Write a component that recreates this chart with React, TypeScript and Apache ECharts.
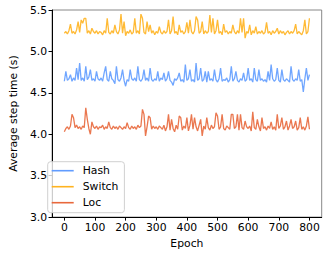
import React, { useEffect, useRef } from "react";
import * as echarts from "echarts";

const STEP = 5;
const seriesNames = ["Hash", "Switch", "Loc"];
const colors = ["#619CFF", "#FFB31F", "#E8683C"];
const xTicks = [0, 100, 200, 300, 400, 500, 600, 700, 800];

const switchValues = [
  5.22, 5.24, 5.21, 5.25, 5.33, 5.22, 5.24, 5.21, 5.26, 5.36,
  5.23, 5.38, 5.34, 5.40, 5.40, 5.22, 5.25, 5.21, 5.28, 5.24,
  5.22, 5.25, 5.21, 5.24, 5.23, 5.20, 5.25, 5.22, 5.40, 5.23,
  5.21, 5.25, 5.22, 5.32, 5.24, 5.21, 5.26, 5.45, 5.22, 5.36,
  5.19, 5.24, 5.22, 5.26, 5.21, 5.23, 5.40, 5.22, 5.25, 5.21,
  5.45, 5.40, 5.23, 5.21, 5.36, 5.24, 5.32, 5.22, 5.25, 5.20,
  5.24, 5.22, 5.30, 5.23, 5.21, 5.25, 5.22, 5.24, 5.38, 5.21,
  5.25, 5.42, 5.22, 5.24, 5.20, 5.32, 5.23, 5.25, 5.21, 5.24,
  5.35, 5.22, 5.38, 5.24, 5.21, 5.25, 5.42, 5.38, 5.22, 5.24,
  5.36, 5.21, 5.25, 5.22, 5.24, 5.44, 5.23, 5.40, 5.21, 5.25,
  5.38, 5.22, 5.24, 5.20, 5.33, 5.23, 5.25, 5.21, 5.24, 5.22,
  5.32, 5.24, 5.21, 5.25, 5.22, 5.40, 5.23, 5.40, 5.16, 5.24,
  5.22, 5.32, 5.20, 5.25, 5.22, 5.30, 5.21, 5.24, 5.22, 5.25,
  5.21, 5.23, 5.35, 5.22, 5.24, 5.20, 5.25, 5.22, 5.24, 5.28,
  5.21, 5.25, 5.22, 5.24, 5.20, 5.23, 5.25, 5.21, 5.24, 5.22,
  5.25, 5.33, 5.21, 5.24, 5.22, 5.20, 5.25, 5.38, 5.21, 5.24,
  5.40,
];

const hashValues = [
  4.64, 4.76, 4.65, 4.67, 4.72, 4.64, 4.68, 4.65, 4.80, 4.66,
  4.86, 4.65, 4.68, 4.64, 4.82, 4.66, 4.69, 4.78, 4.65, 4.67,
  4.64, 4.76, 4.67, 4.65, 4.68, 4.64, 4.74, 4.82, 4.66, 4.64,
  4.76, 4.67, 4.65, 4.61, 4.82, 4.66, 4.64, 4.68, 4.78, 4.65,
  4.58, 4.66, 4.64, 4.78, 4.67, 4.65, 4.68, 4.64, 4.82, 4.66,
  4.64, 4.67, 4.78, 4.65, 4.68, 4.64, 4.80, 4.66, 4.64, 4.67,
  4.65, 4.76, 4.64, 4.68, 4.66, 4.74, 4.64, 4.67, 4.76, 4.65,
  4.63, 4.59, 4.67, 4.65, 4.68, 4.74, 4.64, 4.66, 4.63, 4.84,
  4.65, 4.67, 4.78, 4.64, 4.66, 4.63, 4.86, 4.65, 4.67, 4.80,
  4.64, 4.66, 4.76, 4.63, 4.76, 4.65, 4.67, 4.64, 4.78, 4.66,
  4.63, 4.67, 4.80, 4.64, 4.66, 4.65, 4.68, 4.63, 4.66, 4.82,
  4.64, 4.67, 4.76, 4.65, 4.63, 4.67, 4.65, 4.74, 4.64, 4.66,
  4.80, 4.65, 4.67, 4.63, 4.80, 4.66, 4.64, 4.78, 4.65, 4.67,
  4.64, 4.66, 4.63, 4.76, 4.65, 4.84, 4.67, 4.64, 4.66, 4.80,
  4.65, 4.63, 4.78, 4.66, 4.64, 4.67, 4.65, 4.63, 4.82, 4.66,
  4.64, 4.67, 4.65, 4.78, 4.64, 4.66, 4.51, 4.67, 4.80, 4.65,
  4.72,
];

const locValues = [
  4.03, 4.07, 4.09, 4.06, 4.10, 4.24, 4.20, 4.08, 4.11, 4.07,
  4.09, 4.06, 4.10, 4.08, 4.32, 4.18, 4.07, 4.00, 4.15, 4.09,
  4.07, 4.10, 4.06, 4.09, 4.08, 4.11, 4.06, 4.09, 4.07, 4.15,
  4.08, 4.06, 4.10, 4.07, 4.09, 4.06, 4.10, 4.08, 4.06, 4.09,
  4.07, 4.14, 4.08, 4.06, 4.10, 4.07, 4.09, 4.06, 4.11, 4.08,
  4.10, 4.30, 4.24, 3.98, 4.09, 4.22, 4.20, 4.06, 4.10, 4.07,
  4.09, 4.06, 4.10, 4.08, 4.06, 4.11, 4.04, 4.09, 4.24, 4.05,
  4.18, 4.07, 4.03, 4.11, 4.06, 4.22, 4.20, 4.05, 4.10, 4.07,
  4.20, 4.04, 4.11, 4.24, 4.06, 4.20, 4.09, 4.04, 4.11, 4.18,
  3.98, 4.10, 4.06, 4.20, 4.08, 4.05, 4.11, 4.07, 4.09, 4.26,
  4.22, 4.06, 4.09, 4.24, 4.07, 4.05, 4.10, 4.08, 4.06, 4.24,
  4.24, 4.07, 4.09, 4.24, 4.05, 4.24, 4.08, 4.06, 4.16, 4.09,
  4.07, 4.10, 4.04, 4.27, 4.08, 4.06, 4.18, 4.09, 4.04, 4.20,
  4.07, 4.09, 4.05, 4.10, 4.07, 4.15, 4.06, 4.09, 4.05, 4.24,
  4.07, 4.10, 4.20, 4.06, 4.09, 4.16, 4.05, 4.10, 4.18, 4.07,
  4.09, 4.16, 4.05, 4.08, 4.20, 4.06, 4.09, 4.05, 4.10, 4.21,
  4.06,
];

const FONT = "'DejaVu Sans', sans-serif";
const FS = 10.8;

export default function App() {
  const ref = useRef<HTMLDivElement>(null);
  useEffect(() => {
    if (!ref.current) return;
    const chart = echarts.init(ref.current, null, { renderer: "svg" });
    const toPairs = (vals: number[]) => vals.map((v, i) => [i * STEP, v]);
    const allValues = [hashValues, switchValues, locValues];
    chart.setOption({
      animation: false,
      backgroundColor: "#fff",
      textStyle: { fontFamily: FONT },
      grid: {
        left: 41.7,
        right: 5.3,
        top: 10,
        bottom: 36,
        show: true,
        borderColor: "#888",
        borderWidth: 1,
        backgroundColor: "transparent",
      },
      legend: {
        orient: "vertical",
        left: 47.7,
        top: 161.7,
        padding: [3, 6, 4, 4],
        itemGap: 4,
        itemWidth: 22,
        itemHeight: 1.6,
        icon: "rect",
        borderColor: "#d0d0d0",
        borderWidth: 1,
        borderRadius: 3,
        backgroundColor: "rgba(255,255,255,0.8)",
        data: seriesNames,
        textStyle: {
          fontFamily: FONT,
          fontSize: FS,
          color: "#000",
          lineHeight: 12,
          padding: [0, 0, 0, 4],
        },
      },
      xAxis: {
        type: "value",
        min: -40,
        max: 840,
        name: "Epoch",
        nameLocation: "middle",
        nameGap: 18,
        nameTextStyle: { fontFamily: FONT, fontSize: FS, color: "#000" },
        axisLine: { show: true, onZero: false, lineStyle: { color: "#000", width: 1 } },
        axisTick: {
          show: true,
          length: 3.5,
          customValues: xTicks,
          lineStyle: { color: "#000" },
        },
        axisLabel: {
          customValues: xTicks,
          fontFamily: FONT,
          fontSize: FS,
          color: "#000",
          margin: 5,
        },
        splitLine: { show: false },
      },
      yAxis: {
        type: "value",
        min: 3.0,
        max: 5.5,
        interval: 0.5,
        name: "Average step time (s)",
        nameLocation: "middle",
        nameGap: 28,
        nameTextStyle: { fontFamily: FONT, fontSize: FS, color: "#000" },
        axisLine: { show: true, onZero: false, lineStyle: { color: "#000", width: 1 } },
        axisTick: { show: true, length: 3.5, lineStyle: { color: "#000" } },
        axisLabel: {
          fontFamily: FONT,
          fontSize: FS,
          color: "#000",
          margin: 5,
          formatter: (v: number) => v.toFixed(1),
        },
        splitLine: { show: false },
      },
      series: seriesNames.map((name, k) => ({
        name,
        type: "line",
        data: toPairs(allValues[k]),
        symbol: "none",
        showSymbol: false,
        color: colors[k],
        lineStyle: { color: colors[k], width: 1.3, opacity: 0.9 },
      })),
    });
    return () => chart.dispose();
  }, []);
  return (
    <div
      ref={ref}
      style={{ width: 327, height: 254, position: "absolute", left: 0, top: 0 }}
    />
  );
}
